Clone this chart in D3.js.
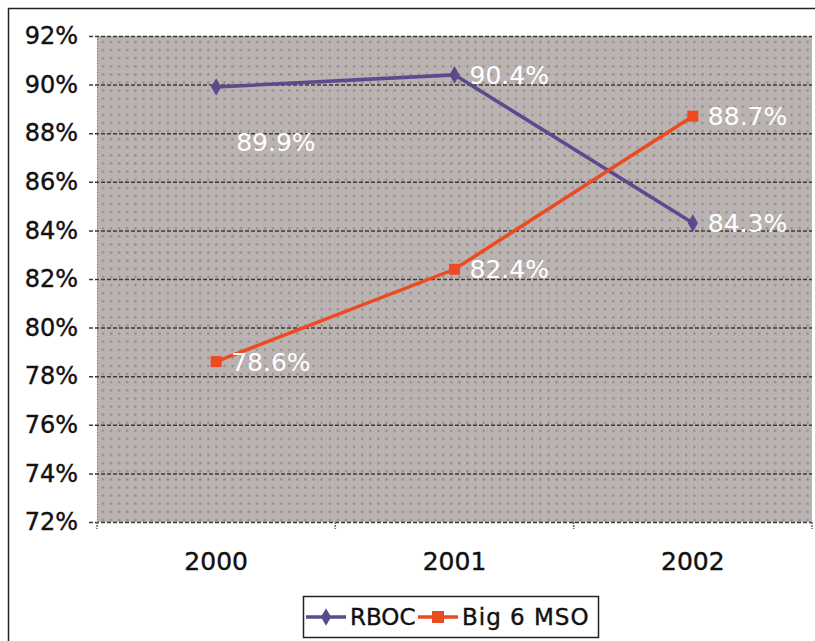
<!DOCTYPE html>
<html><head><meta charset="utf-8">
<script src="https://cdn.jsdelivr.net/npm/d3@7"></script>
<style>body{margin:0;background:#fff}svg{display:block}text{font-family:"DejaVu Sans",Verdana,sans-serif}</style>
</head><body>
<svg id="c" width="815" height="641"></svg>
<script>
const years = ["2000", "2001", "2002"];
const rboc = [89.9, 90.4, 84.3];
const big6 = [78.6, 82.4, 88.7];
const seriesNames = ["RBOC", "Big 6 MSO"];
const seriesColors = ["#5a4a8e", "#ec4a22"];
const yTicks = [72, 74, 76, 78, 80, 82, 84, 86, 88, 90, 92];

const svg = d3.select("#c");
const L = 97, R = 812, T = 36, B = 522;

// outer frame
svg.append("rect").attr("x", 8.5).attr("y", 8.5).attr("width", 820).attr("height", 650)
  .attr("fill", "#fff").attr("stroke", "#222").attr("stroke-width", 1.5);

const x = d3.scaleBand().domain(years).range([L, R]);
const y = d3.scaleLinear().domain([72, 92]).range([B, T]);

// plot background
const defs = svg.append("defs");
const pat = defs.append("pattern").attr("id", "dots").attr("patternUnits", "userSpaceOnUse")
  .attr("width", 8.1).attr("height", 8.1).attr("x", L + 2).attr("y", T + 2);
pat.append("rect").attr("width", 8.1).attr("height", 8.1).attr("fill", "#bbb3b1");
pat.append("rect").attr("x", 3).attr("y", 3).attr("width", 2).attr("height", 2).attr("fill", "#8a8483");
svg.append("rect").attr("x", L).attr("y", T).attr("width", R - L).attr("height", B - T).attr("fill", "url(#dots)");
svg.append("line").attr("x1", L + 0.5).attr("x2", L + 0.5).attr("y1", T).attr("y2", B)
  .attr("stroke", "#777").attr("stroke-dasharray", "1,2");

// gridlines
svg.append("g").selectAll("line").data(yTicks).join("line")
  .attr("x1", L - 8).attr("x2", R).attr("y1", d => y(d) + 0.5).attr("y2", d => y(d) + 0.5)
  .attr("stroke", "#3e3838").attr("stroke-width", 1.5).attr("stroke-dasharray", "4,2");

// y axis labels
const yAxis = d3.axisLeft(y).tickValues(yTicks).tickFormat(d => d + "%").tickSize(0).tickPadding(19);
const gy = svg.append("g").attr("transform", `translate(${L},0)`).call(yAxis);
gy.select(".domain").remove();
gy.selectAll("text").attr("font-size", 24).attr("fill", "#111").attr("font-family", "DejaVu Sans")
  .attr("stroke", "#111").attr("stroke-width", 0.4);

// x axis
const xAxis = d3.axisBottom(x).tickSize(0).tickPadding(30);
const gx = svg.append("g").attr("transform", `translate(0,${B})`).call(xAxis);
gx.select(".domain").remove();
gx.selectAll("text").attr("font-size", 25).attr("fill", "#111").attr("font-family", "DejaVu Sans")
  .attr("stroke", "#111").attr("stroke-width", 0.4);
const bounds = years.map(d => x(d)).concat([R]);
svg.append("g").selectAll("line").data(bounds).join("line")
  .attr("x1", d => d).attr("x2", d => d).attr("y1", B).attr("y2", B + 7)
  .attr("stroke", "#666").attr("stroke-width", 1.5).attr("stroke-dasharray", "2,1");

const cx = d => x(d) + x.bandwidth() / 2;
const series = [rboc, big6];

series.forEach((vals, si) => {
  const line = d3.line().x((d, i) => cx(years[i])).y(d => y(d));
  svg.append("path").datum(vals).attr("d", line).attr("fill", "none")
    .attr("stroke", seriesColors[si]).attr("stroke-width", 3.5);
  const g = svg.append("g");
  vals.forEach((v, i) => {
    if (si === 0) {
      g.append("path").attr("d", d3.symbol(d3.symbolDiamond, 90)())
        .attr("transform", `translate(${cx(years[i])},${y(v)})`).attr("fill", seriesColors[si]);
    } else {
      g.append("rect").attr("x", cx(years[i]) - 5.5).attr("y", y(v) - 5.5).attr("width", 11).attr("height", 11)
        .attr("fill", seriesColors[si]);
    }
    const below = (si === 0 && i === 0);
    g.append("text").attr("x", cx(years[i]) + (below ? 20 : 15))
      .attr("y", y(v) + (below ? 55 : 0)).attr("dy", "0.36em")
      .attr("font-size", 25).attr("fill", "#fff").text(v.toFixed(1) + "%");
  });
});

// legend
const lg = svg.append("g");
lg.append("rect").attr("x", 303.5).attr("y", 596.5).attr("width", 295).attr("height", 41)
  .attr("fill", "#fff").attr("stroke", "#222").attr("stroke-width", 1.5);
const legItems = [{x0: 306, tx: 350}, {x0: 418, tx: 462}];
seriesNames.forEach((n, si) => {
  const it = legItems[si];
  const ly = 617;
  lg.append("line").attr("x1", it.x0).attr("x2", it.x0 + 40).attr("y1", ly).attr("y2", ly)
    .attr("stroke", seriesColors[si]).attr("stroke-width", 3.5);
  if (si === 0) {
    lg.append("path").attr("d", d3.symbol(d3.symbolDiamond, 90)())
      .attr("transform", `translate(${it.x0 + 20},${ly})`).attr("fill", seriesColors[si]);
  } else {
    lg.append("rect").attr("x", it.x0 + 14).attr("y", ly - 6).attr("width", 12).attr("height", 12)
      .attr("fill", seriesColors[si]);
  }
  lg.append("text").attr("x", it.tx).attr("y", ly).attr("dy", "0.36em")
    .attr("font-size", 23).attr("fill", "#111").attr("stroke", "#111").attr("stroke-width", 0.4)
    .attr("letter-spacing", si === 1 ? 1 : 0).text(n);
});
</script>
</body></html>
